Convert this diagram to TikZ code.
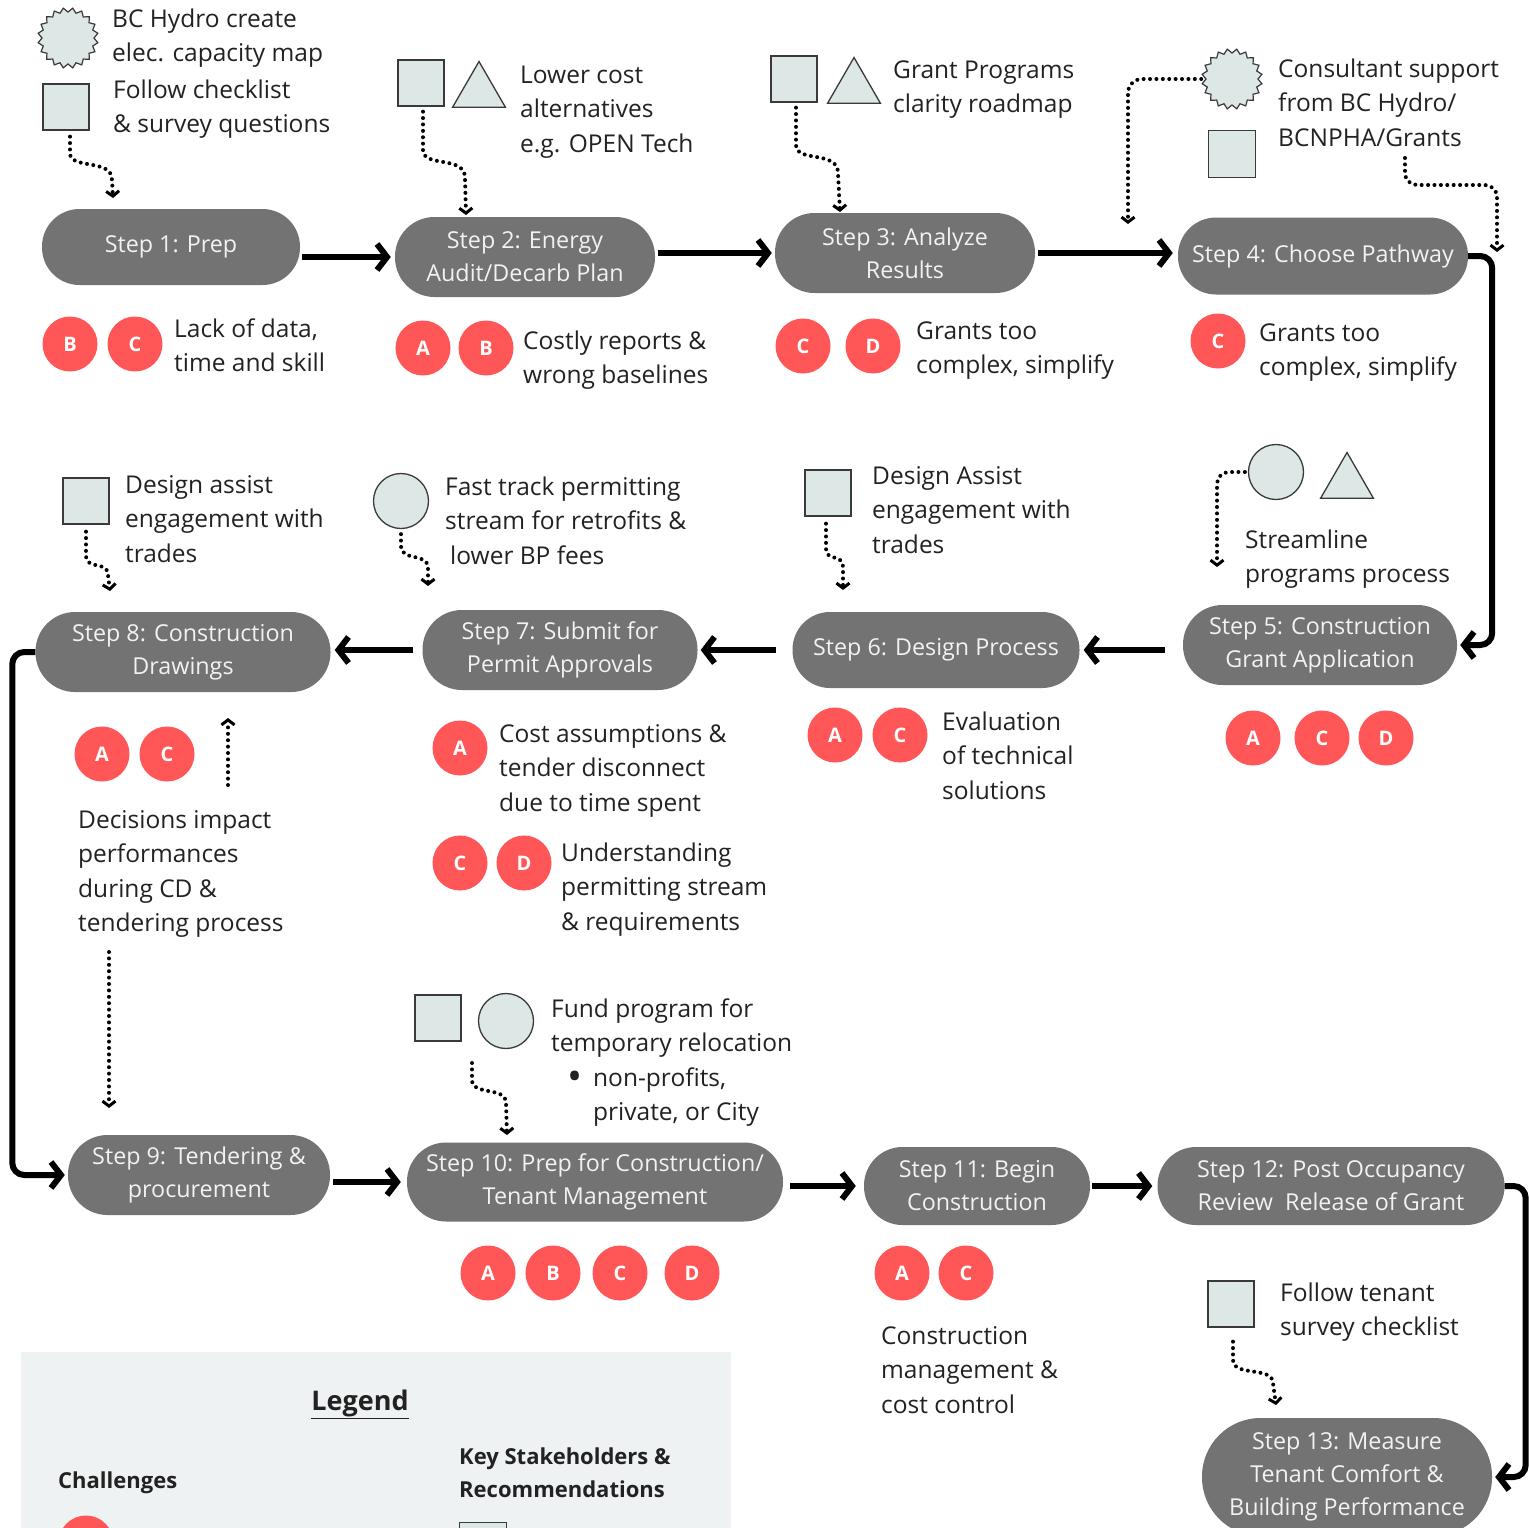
\documentclass[tikz,border=0pt]{standalone}
\usepackage{fontspec}
\setmainfont{Open Sans}
\usetikzlibrary{arrows.meta,shapes.geometric,calc}
\definecolor{pillgray}{HTML}{737373}
\definecolor{pilltext}{HTML}{F2F2F2}
\definecolor{chred}{HTML}{FF5757}
\definecolor{shfill}{HTML}{DCE7E6}
\definecolor{shline}{HTML}{3A3A3A}
\definecolor{legbg}{HTML}{EFF2F3}
\definecolor{txt}{HTML}{222222}
\begin{document}
\begin{tikzpicture}[x=1pt,y=-1pt,
  stepbox/.style={rectangle, fill=pillgray, text=pilltext, align=center, inner sep=0pt,
    font=\fontsize{23.3}{33}\selectfont},
  chal/.style={circle, fill=chred, text=white, minimum size=55pt, inner sep=0pt,
    font=\fontsize{20}{20}\selectfont\bfseries},
  lbl/.style={anchor=base west, align=left, inner sep=0pt, text=txt,
    font=\fontsize{24.5}{34.5}\selectfont},
  sqshape/.style={rectangle, draw=shline, fill=shfill, minimum size=46pt, inner sep=0pt, line width=1.3pt},
  circshape/.style={circle, draw=shline, fill=shfill, minimum size=55pt, inner sep=0pt, line width=1.3pt},
  trishape/.style={regular polygon, regular polygon sides=3, draw=shline, fill=shfill,
    minimum size=61pt, inner sep=0pt, line width=1.3pt},
  burst/.style={star, star points=20, star point ratio=0.86, draw=shline, fill=shfill,
    minimum size=52pt, inner sep=0pt, line width=1.2pt},
  flow/.style={line width=6pt, -{Straight Barb[length=10pt,width=26pt]}},
  dotarrow/.style={line width=4pt, line cap=round, dash pattern=on 0pt off 6.4pt,
    -{Straight Barb[length=5pt,width=13pt,line width=3pt]}},
]
\useasboundingbox (0,0) rectangle (1529,1527);
\clip (0,0) rectangle (1529,1527);
\fill[white] (0,0) rectangle (1529,1527);

% ---------- steps ----------
\node[stepbox, minimum width=258pt, minimum height=76pt, rounded corners=37.5pt] (s1) at (171,247) {Step 1: Prep};
\node[stepbox, minimum width=260pt, minimum height=80pt, rounded corners=39.5pt] (s2) at (525,257) {Step 2: Energy\\Audit/Decarb Plan};
\node[stepbox, minimum width=260pt, minimum height=80pt, rounded corners=39.5pt] (s3) at (905,253) {Step 3: Analyze\\Results};
\node[stepbox, minimum width=290pt, minimum height=77pt, rounded corners=38pt] (s4) at (1323,256) {Step 4: Choose Pathway};
\node[stepbox, minimum width=274pt, minimum height=80pt, rounded corners=39.5pt] (s5) at (1320,645) {Step 5: Construction\\Grant Application};
\node[stepbox, minimum width=287pt, minimum height=76pt, rounded corners=37.5pt] (s6) at (936,650) {Step 6: Design Process};
\node[stepbox, minimum width=275pt, minimum height=80pt, rounded corners=39.5pt] (s7) at (560,650) {Step 7: Submit for\\Permit Approvals};
\node[stepbox, minimum width=295pt, minimum height=80pt, rounded corners=39.5pt] (s8) at (183,652) {Step 8: Construction\\Drawings};
\node[stepbox, minimum width=262pt, minimum height=80pt, rounded corners=39.5pt] (s9) at (199,1175) {Step 9: Tendering \&\\procurement};
\node[stepbox, minimum width=376pt, minimum height=79pt, rounded corners=39pt] (s10) at (595,1182) {Step 10: Prep for Construction/\\Tenant Management};
\node[stepbox, minimum width=226pt, minimum height=78pt, rounded corners=38.5pt] (s11) at (977,1186) {Step 11: Begin\\Construction};
\node[stepbox, minimum width=347pt, minimum height=78pt, rounded corners=38.5pt] (s12) at (1331,1186) {Step 12: Post Occupancy\\Review\ \ Release of Grant};
\node[stepbox, minimum width=290pt, minimum height=118pt, rounded corners=58.5pt] (s13) at (1347,1477) {Step 13: Measure\\Tenant Comfort \&\\Building Performance};

% ---------- main flow ----------
\draw[flow, shorten <=2pt, shorten >=4pt] (s1.east |- s2.west) -- (s2.west);
\draw[flow, shorten <=3pt, shorten >=3pt] (s2.east |- s3.west) -- (s3.west);
\draw[flow, shorten <=3pt, shorten >=5pt] (s3.east) -- (s3.east -| s4.west);
\draw[flow, rounded corners=12pt, shorten >=3pt] (s4.east) -- ++(24,0) |- (s5.east);
\draw[flow, shorten <=18pt, shorten >=4pt] (s5.west |- s6.east) -- (s6.east);
\draw[flow, shorten <=16pt, shorten >=3pt] (s6.west) -- (s6.west -| s7.east);
\draw[flow, shorten <=9pt, shorten >=4pt] (s7.west) -- (s7.west -| s8.east);
\draw[flow, rounded corners=12pt, shorten >=3pt] (s8.west) -- ++(-23,0) |- (s9.west);
\draw[flow, shorten <=3pt, shorten >=6pt] (s9.east |- s10.west) -- (s10.west);
\draw[flow, shorten <=7pt, shorten >=8pt] (s10.east |- s11.west) -- (s11.west);
\draw[flow, shorten <=2pt, shorten >=5pt] (s11.east) -- (s11.east -| s12.west);
\draw[flow, rounded corners=12pt, shorten >=3pt] (s12.east) -- ++(21,0) |- (s13.east);

% ---------- challenges ----------
\node[chal] (c1b) at (70,344) {B};
\node[chal] (c1c) at (135,344) {C};
\node[lbl] (l1) at (174,371.5) {Lack of data,\\time and skill};
\node[chal] (c2a) at (423,348) {A};
\node[chal] (c2b) at (486,348) {B};
\node[lbl] (l2) at (523,383.5) {Costly reports \&\\wrong baselines};
\node[chal] (c3c) at (803,346) {C};
\node[chal] (c3d) at (873,346) {D};
\node[lbl] (l3) at (916,373.5) {Grants too\\complex, simplify};
\node[chal] (c4c) at (1218,341) {C};
\node[lbl] (l4) at (1259,375.5) {Grants too\\complex, simplify};
\node[chal] (c5a) at (1253,738) {A};
\node[chal] (c5c) at (1322,738) {C};
\node[chal] (c5d) at (1386,738) {D};
\node[chal] (c6a) at (835,735) {A};
\node[chal] (c6c) at (900,735) {C};
\node[lbl] (l6) at (942,799) {Evaluation\\of technical\\solutions};
\node[chal] (c7a) at (460,748) {A};
\node[lbl] (l7a) at (499,811) {Cost assumptions \&\\tender disconnect\\due to time spent};
\node[chal] (c7c) at (460,863) {C};
\node[chal] (c7d) at (524,863) {D};
\node[lbl] (l7b) at (561,930) {Understanding\\permitting stream\\\& requirements};
\node[chal] (c8a) at (102,754) {A};
\node[chal] (c8c) at (167,754) {C};
\node[lbl] (l8) at (78,931.5) {Decisions impact\\performances\\during CD \&\\tendering process};
\node[chal] (c10a) at (488,1273) {A};
\node[chal] (c10b) at (553,1273) {B};
\node[chal] (c10c) at (620,1273) {C};
\node[chal] (c10d) at (692,1273) {D};
\node[chal] (c11a) at (902,1273) {A};
\node[chal] (c11c) at (966,1273) {C};
\node[lbl] (l11) at (881,1413) {Construction\\management \&\\cost control};

% ---------- stakeholders ----------
\node[burst] (b1) at (68,38) {};
\node[sqshape] (sq1) at (66,107) {};
\node[lbl] (k1a) at (112,61.5) {BC Hydro create\\elec. capacity map};
\node[lbl] (k1b) at (113,132.5) {Follow checklist\\\& survey questions};

\node[sqshape] (sq2) at (421,83) {};
\node[trishape] (tr2) at (479,92) {};
\node[lbl] (k2) at (520,152) {Lower cost\\alternatives\\e.g. OPEN Tech};

\node[sqshape] (sq3) at (794,79) {};
\node[trishape] (tr3) at (854,88) {};
\node[lbl] (k3) at (893,112.5) {Grant Programs\\clarity roadmap};

\node[burst] (b4) at (1232,79) {};
\node[sqshape, minimum size=47pt] (sq4) at (1232,154) {};
\node[lbl] (k4) at (1278,146) {Consultant support\\from BC Hydro/\\BCNPHA/Grants};

\node[circshape] (ci5) at (1276,472) {};
\node[trishape] (tr5) at (1347,483) {};
\node[lbl] (k5) at (1245,582.5) {Streamline\\programs process};

\node[sqshape] (sq6) at (828,493) {};
\node[lbl] (k6) at (872,553) {Design Assist\\engagement with\\trades};

\node[circshape] (ci7) at (401,501) {};
\node[lbl] (k7) at (445,564) {Fast track permitting\\stream for retrofits \&\\\hspace*{5pt}lower BP fees};

\node[sqshape] (sq8) at (86,501) {};
\node[lbl] (k8) at (125,562) {Design assist\\engagement with\\trades};

\node[sqshape] (sq10) at (438,1018) {};
\node[circshape] (ci10) at (506,1021) {};
\node[lbl] (k10) at (551,1051.5) {Fund program for\\temporary relocation};
\node[lbl, font=\fontsize{40}{40}\selectfont] (k10bul) at (567,1090) {•};
\node[lbl] (k10b) at (593,1120.5) {non-profits,\\private, or City};

\node[sqshape] (sq13) at (1231,1304) {};
\node[lbl] (k13) at (1280,1335.5) {Follow tenant\\survey checklist};

% ---------- dotted connectors ----------
\coordinate (t1) at (113,198);
\coordinate (t2) at (466,215);
\coordinate (t3) at (840,212);
\coordinate (t4a) at (1128,224);
\coordinate (d4bs) at (1405,158);
\coordinate (t4b) at (1497,252);
\coordinate (t5) at (1217,567);
\coordinate (t6) at (843,590);
\coordinate (t7) at (428,586);
\coordinate (t8) at (110,591);
\coordinate (u8s) at (228,785);
\coordinate (u8t) at (228,718);
\coordinate (d9s) at (109,952);
\coordinate (t9) at (109,1108);
\coordinate (d10s) at (472,1063);
\coordinate (t10) at (507,1135);
\coordinate (t13) at (1276,1405);

\draw[dotarrow] ($(sq1.south)+(4,6)$) -- (70,153) .. controls (70,170) and (112,158) .. (112,180) -- (t1);
\draw[dotarrow] ($(sq2.south)+(2,5)$) -- (423,150) .. controls (423,168) and (465,155) .. (465,178) -- (t2);
\draw[dotarrow] ($(sq3.south)+(2,5)$) -- (796,145) .. controls (796,163) and (838,150) .. (838,173) -- (t3);
\draw[dotarrow, rounded corners=14pt] ($(b4.west)+(-4,0)$) -| (t4a);
\draw[dotarrow, rounded corners=12pt] (d4bs) |- (1497,185) -- (t4b);
\draw[dotarrow, rounded corners=12pt] ($(ci5.west)+(-3,0)$) -| (t5);
\draw[dotarrow] ($(sq6.south)+(-2,7)$) -- (826,548) .. controls (826,563) and (843,552) .. (843,568) -- (t6);
\draw[dotarrow] ($(ci7.south)+(0,5)$) -- (401,546) .. controls (401,562) and (428,552) .. (428,568) -- (t7);
\draw[dotarrow] ($(sq8.south)+(0,7)$) -- (86,555) .. controls (86,571) and (108,560) .. (108,575) -- (t8);
\draw[dotarrow] (u8s) -- (u8t);
\draw[dotarrow] (d9s) -- (t9);
\draw[dotarrow] (d10s) -- (472,1080) .. controls (472,1096) and (506,1086) .. (506,1103) -- (t10);
\draw[dotarrow] ($(sq13.south)+(2,14)$) -- (1233,1360) .. controls (1233,1377) and (1273,1366) .. (1273,1383) -- (t13);

% ---------- legend ----------
\node[fill=legbg, minimum width=710pt, minimum height=190pt, anchor=north west, inner sep=0pt] (leg) at (21,1352) {};
\node[text=txt, font=\fontsize{27}{30}\selectfont\bfseries, inner sep=0pt] (legt) at (360,1404) {\underline{Legend}};
\node[lbl, font=\fontsize{22}{33}\selectfont\bfseries] (legc) at (58,1488) {Challenges};
\node[lbl, font=\fontsize{22}{33}\selectfont\bfseries] (legk) at (459,1497) {Key Stakeholders \&\\Recommendations};
\node[chal] (legcirc) at (86,1543) {};
\node[sqshape, minimum size=47pt, anchor=north west] (legsq) at (459,1522) {};
\end{tikzpicture}
\end{document}
